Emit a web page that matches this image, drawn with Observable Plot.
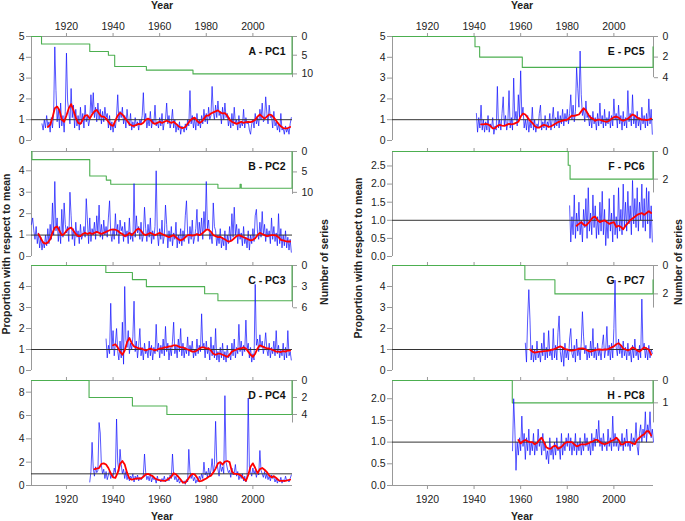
<!DOCTYPE html>
<html><head><meta charset="utf-8">
<script src="https://cdn.jsdelivr.net/npm/d3@7"></script>
<script src="https://cdn.jsdelivr.net/npm/@observablehq/plot@0.6"></script>
<style>
body{margin:0;background:#fff;}
#chart{position:relative;width:685px;height:521px;font-family:"Liberation Sans",Arial,sans-serif;color:#222;overflow:hidden;background:#fff;}
.t{position:absolute;font-weight:bold;font-size:10.5px;white-space:nowrap;line-height:1;color:#222;}
.rot{transform:translate(-50%,-50%) rotate(-90deg);}
.hz{transform:translate(-50%,-50%);}
#chart svg{position:absolute;}
</style></head><body><div id="chart"></div>
<script>
// ---------- data ----------
const panelLabels = ["A - PC1","B - PC2","C - PC3","D - PC4","E - PC5","F - PC6","G - PC7","H - PC8"];
const yearTicks = [1920,1940,1960,1980,2000];
const blueStartYears = [1909.5,1905,1937,1930,1941,1981,1962,1956.5];
const redStartYears = [1912,1908,1940,1932,1943,1984,1964,1959];

const blueA = [0.8,
0.5,1.0,0.6,1.2,0.7,0.9,0.4,1.1,0.6,1.3,
4.5,2.4,0.9,1.5,0.6,1.8,0.7,1.2,0.4,1.4,
4.2,1.9,1.4,0.8,2.5,1.1,1.7,0.6,1.5,0.7,
1.2,0.5,1.6,0.8,1.3,0.6,1.7,0.9,1.2,0.7,
1.0,2.2,1.3,2.3,1.1,1.6,0.9,1.8,1.0,1.5,
0.8,1.4,0.9,1.6,1.1,1.3,0.6,1.2,0.5,0.9,
0.4,0.8,0.6,1.2,2.2,0.9,1.4,1.1,1.6,0.8,
1.2,0.6,1.5,0.9,0.7,1.3,0.5,0.9,0.6,1.1,
0.7,0.9,0.5,1.0,0.8,1.2,2.3,0.9,1.3,0.6,
1.0,0.7,1.4,0.6,1.0,0.8,1.7,0.7,0.9,0.6,
1.1,0.7,1.3,0.5,0.9,1.0,1.8,0.8,1.2,0.6,
0.9,1.5,0.6,1.0,0.4,0.8,0.5,0.9,0.3,0.7,
0.6,0.4,0.8,0.5,1.0,0.7,2.4,0.8,1.2,0.6,
1.1,0.5,1.3,0.7,1.0,0.6,1.2,0.8,1.5,0.9,
1.3,0.8,1.6,1.0,1.2,2.6,1.4,1.0,1.7,1.1,
1.9,1.2,1.4,0.8,1.6,1.0,1.8,1.1,1.3,0.7,
1.1,0.6,1.3,0.7,1.6,0.8,1.0,0.5,1.2,0.6,
0.9,0.7,1.5,0.6,1.1,0.8,0.9,0.5,0.3,0.8,
1.0,0.6,1.3,0.8,1.1,0.7,1.5,1.0,1.8,0.9,
1.0,2.1,1.3,0.8,1.7,1.1,1.2,0.6,1.4,0.7,
0.9,0.5,0.8,0.4,1.3,0.5,0.6,0.3,0.7,0.4,
0.6,0.3,0.8,1.1];
const redA = [0.65,0.75,1.1,1.55,1.63,1.45,1.0,0.9,1.2,1.55,
1.75,1.45,1.1,0.85,0.8,1.0,1.2,1.22,1.05,1.25,
1.4,1.47,1.3,1.15,1.15,1.05,0.9,0.75,0.7,0.95,
1.2,1.33,1.25,1.1,0.95,0.8,0.72,0.7,0.75,0.8,
0.78,0.85,1.0,1.05,1.0,0.85,0.8,0.85,0.9,0.85,
0.9,0.95,0.9,0.85,0.9,0.8,0.7,0.62,0.6,0.65,
0.8,0.95,1.05,1.1,0.95,0.85,0.9,1.05,1.2,1.2,
1.3,1.35,1.4,1.45,1.35,1.3,1.32,1.2,1.0,0.9,
0.85,0.8,0.85,0.9,0.85,0.88,0.9,0.88,0.92,1.0,
1.15,1.25,1.15,1.05,1.15,1.25,1.22,1.1,0.95,0.8,
0.68,0.6,0.58,0.6,0.65];

const blueB = [
1.5,1.8,1.2,0.8,1.4,0.6,1.1,0.4,0.9,0.3,
0.7,0.4,1.0,0.5,1.3,0.6,1.5,0.8,2.5,1.0,
3.5,1.2,1.8,0.7,1.4,0.6,2.2,0.9,2.5,1.5,
1.1,1.4,0.7,3.0,1.9,0.8,1.3,0.5,1.6,0.9,
1.2,0.6,1.5,0.8,1.0,1.4,0.9,2.7,1.7,0.6,
1.8,0.7,1.3,1.0,1.6,0.8,1.9,1.1,2.4,0.9,
1.5,0.8,1.7,1.0,1.4,0.9,1.8,2.6,1.1,0.7,
1.3,0.8,2.0,1.0,1.5,0.6,1.7,1.2,1.4,0.7,
1.6,0.9,1.2,0.6,1.8,0.8,1.1,0.7,3.4,0.9,
1.9,1.1,1.4,0.8,1.6,0.7,1.0,2.3,1.3,0.7,
1.5,0.9,1.8,0.6,1.2,0.8,1.4,4.0,1.1,0.5,
1.3,0.8,1.7,0.6,1.0,2.4,1.5,0.4,1.2,0.7,
1.4,0.5,1.1,0.8,1.6,0.4,1.0,0.6,1.3,0.5,
1.2,0.7,1.9,2.6,1.1,0.6,1.4,0.8,1.7,0.6,
0.9,1.3,2.2,0.7,1.6,1.0,1.8,0.8,2.1,1.2,
3.5,1.3,1.7,0.8,1.1,0.6,2.5,1.4,1.2,0.5,
1.0,0.6,1.3,0.4,0.9,0.5,1.2,0.3,1.0,0.6,
1.4,0.7,2.0,0.9,2.3,1.0,1.5,0.6,1.3,0.8,
1.1,0.5,1.4,0.6,0.9,0.4,1.2,0.3,1.0,0.6,
1.3,0.7,1.9,2.2,1.1,0.8,1.6,0.9,2.1,1.0,
1.5,0.7,1.3,0.9,1.2,0.6,1.8,0.8,1.4,0.7,
1.1,0.5,2.0,0.6,1.3,0.4,1.0,0.5,1.2,0.4,
0.9,0.3,0.8,0.2];
const redB = [1.05,0.85,0.65,0.6,0.65,0.8,1.1,1.35,1.4,1.2,
1.0,1.05,1.2,1.3,1.35,1.2,1.05,0.95,0.95,1.05,
1.1,1.05,1.1,1.05,1.1,1.15,1.1,1.05,1.1,1.15,
1.2,1.25,1.25,1.25,1.2,1.1,1.05,0.95,1.0,1.1,
1.0,1.1,1.25,1.3,1.2,1.05,1.0,1.05,1.1,1.05,
1.0,1.05,1.1,1.05,1.0,0.95,0.9,0.95,1.0,0.9,
0.8,0.75,0.8,0.9,1.0,1.0,0.98,1.0,1.05,1.0,
1.05,1.15,1.25,1.25,1.15,1.0,0.95,0.9,0.92,0.85,
0.8,0.72,0.7,0.75,0.85,0.95,1.0,0.95,0.9,0.85,
0.8,0.75,0.78,0.85,1.0,1.1,1.05,1.0,0.95,0.97,
1.0,1.0,0.98,0.9,0.78,0.75,0.72,0.7,0.7];

const blueC = [1.5,0.6,1.2,0.8,3.2,1.0,
1.9,0.7,1.3,2.0,0.9,0.5,1.4,0.6,2.3,0.3,
4.0,1.5,1.1,1.9,0.8,1.3,1.0,1.6,3.3,0.9,
1.4,0.6,1.2,2.0,0.7,1.1,0.5,1.3,0.8,1.0,
0.6,1.4,0.7,1.2,0.5,1.1,0.8,2.2,0.9,1.3,
0.6,1.2,0.8,1.5,0.7,2.1,0.9,1.3,0.5,1.1,
0.7,1.4,2.3,0.8,1.2,0.6,1.5,0.9,2.0,0.7,
1.3,0.6,1.1,0.8,1.6,0.7,1.2,0.9,1.4,0.6,
1.0,0.7,1.5,0.8,1.2,0.9,2.7,1.1,1.3,0.6,
1.4,0.8,1.1,0.5,1.6,0.7,1.2,0.6,2.0,0.5,
0.9,0.4,1.1,0.6,1.3,0.5,0.9,0.4,1.2,0.6,
0.8,0.5,1.3,0.7,1.5,0.6,1.1,0.8,2.2,0.9,
1.4,0.7,1.2,0.9,2.4,1.0,1.3,0.6,1.1,0.4,
0.8,0.5,4.1,1.2,1.5,0.9,1.7,1.1,1.4,0.8,
1.2,1.8,1.0,0.7,1.3,0.6,1.1,0.8,1.4,0.7,
1.9,0.8,1.2,0.6,1.0,0.7,1.3,0.5,1.1,0.6,
1.9,0.7,0.9,0.5];
const redC = [1.2,1.25,1.1,0.9,0.75,0.95,1.35,1.55,1.3,1.15,
1.1,1.05,1.05,1.0,0.95,1.0,1.05,1.0,0.95,1.0,
1.05,1.05,1.1,1.1,1.15,1.15,1.2,1.2,1.15,1.1,
1.1,1.05,1.0,0.95,0.9,0.9,0.95,1.05,1.1,1.1,
1.05,1.05,0.95,0.8,0.75,0.8,0.8,0.75,0.7,0.65,
0.75,0.9,0.95,1.0,1.05,1.05,1.1,1.05,0.9,0.75,
0.65,0.8,1.05,1.2,1.15,1.1,1.05,1.05,1.0,0.95,
0.9,0.9,0.88,0.92,0.9,0.95,0.95];

const blueD = [
0.3,1.2,3.7,1.5,0.8,1.6,1.1,1.3,5.4,4.5,
1.7,1.0,1.4,0.6,1.2,0.5,0.9,1.3,0.6,1.0,
0.7,1.5,1.1,5.7,2.0,1.2,3.1,1.8,1.0,1.4,
0.6,1.2,0.5,0.9,0.4,0.8,0.6,1.0,0.3,0.8,
0.5,0.9,0.4,0.7,0.5,0.6,0.9,2.7,1.1,0.5,
0.8,0.4,1.0,0.3,0.7,0.5,0.6,0.2,0.8,0.4,
0.5,0.3,0.6,0.4,0.8,0.3,0.5,0.7,0.4,0.9,
0.6,2.7,1.0,0.5,0.8,0.3,0.6,0.2,0.4,0.3,
0.2,0.4,0.1,0.5,0.3,3.1,1.2,0.6,1.0,0.4,
0.7,0.2,0.5,0.3,0.8,0.5,1.0,0.6,2.0,0.9,
1.2,0.7,1.5,0.8,1.3,2.3,1.1,1.8,5.5,2.0,
1.4,0.8,1.9,1.2,1.6,1.0,7.7,2.0,1.5,1.1,
1.3,0.7,1.5,0.9,1.1,1.8,0.8,1.2,0.5,0.9,
0.6,1.0,0.4,0.8,0.3,0.7,7.5,1.6,1.2,0.8,
1.5,1.0,1.3,0.7,1.2,0.9,3.0,1.3,1.0,0.7,
1.2,0.6,1.0,0.5,0.8,0.4,0.9,0.6,0.7,0.3,
0.6,0.2,0.5,0.3,0.7,0.2,0.5,0.3,0.8,0.4,
0.5,0.3,0.6,0.9];
const redD = [1.4,1.45,1.5,1.85,1.9,1.8,1.5,1.05,0.7,0.65,
1.1,1.85,2.1,1.8,1.1,0.6,0.5,0.55,0.6,0.6,
0.6,0.75,0.95,1.0,0.9,0.8,0.6,0.5,0.45,0.42,
0.4,0.45,0.6,0.75,1.05,0.95,0.75,0.5,0.25,0.25,
0.5,0.8,1.0,0.95,0.7,0.35,0.4,0.5,0.6,0.75,
0.85,1.1,1.45,1.9,2.0,1.8,2.05,2.1,2.0,1.2,
1.0,1.0,0.95,0.85,0.6,0.4,0.9,1.6,1.9,1.5,
1.05,1.4,1.5,1.35,1.15,0.85,0.7,0.8,0.65,0.45,
0.4,0.4,0.4,0.45,0.5];

const blueE = [1.3,0.4,1.1,0.6,1.7,0.5,1.0,0.4,
0.9,0.5,1.2,0.4,0.8,0.6,1.1,0.3,0.7,0.5,
2.6,0.6,1.0,0.5,1.3,2.1,0.7,1.2,0.5,0.9,
2.4,0.6,1.1,0.5,3.0,1.0,1.4,0.7,2.2,1.1,
3.35,1.2,1.6,0.6,1.0,0.5,1.2,0.4,0.9,0.6,
1.6,0.5,1.0,0.4,0.8,0.6,1.3,1.7,0.5,0.9,
0.6,1.2,0.5,0.9,0.7,1.3,0.5,1.0,1.6,0.6,
1.1,0.7,1.4,0.6,1.2,0.8,1.5,0.7,1.3,0.9,
1.5,0.8,1.3,2.2,1.0,1.7,0.9,1.4,3.5,2.5,
1.6,4.3,2.2,1.2,1.5,0.9,1.9,1.1,1.3,0.7,
1.2,0.6,1.4,0.8,1.1,0.5,1.3,0.7,1.8,0.8,
1.2,0.6,1.5,0.7,1.1,0.8,1.4,0.6,1.2,0.7,
2.0,1.0,1.3,0.6,1.7,0.8,1.2,0.5,1.4,0.7,
1.1,0.6,2.4,0.9,1.3,0.7,2.2,0.8,1.2,0.6,
1.4,0.7,1.1,0.5,1.6,0.8,1.2,0.6,1.3,0.7,
2.0,0.8,1.5,0.3];
const redE = [0.78,0.78,0.8,0.78,0.7,0.58,0.6,0.7,0.75,0.72,
0.7,0.75,0.8,0.78,0.8,0.85,0.9,1.15,1.3,1.25,
1.1,0.95,0.85,0.7,0.62,0.62,0.7,0.75,0.72,0.65,
0.68,0.75,0.82,0.88,0.92,0.95,0.98,1.0,1.1,1.2,
1.18,1.22,1.25,1.4,1.55,1.45,1.25,1.1,1.05,0.95,
1.0,1.0,0.95,0.92,0.9,0.95,1.05,1.12,1.15,1.1,
1.0,0.95,1.0,1.05,1.15,1.25,1.2,1.1,1.05,1.0,
1.0,0.98,1.0,1.05];

const blueF = [1.4,0.4,1.1,0.6,1.7,0.5,1.2,0.7,
1.5,0.6,1.0,0.4,1.3,0.8,1.6,0.5,1.9,0.7,
1.2,0.6,1.7,0.8,1.4,0.5,1.1,0.6,1.5,0.7,
1.8,0.6,1.3,0.3,1.0,0.5,1.6,0.7,1.2,0.4,
1.7,0.6,1.1,0.5,1.9,0.7,1.3,0.6,2.0,0.8,
1.5,0.7,1.8,0.9,1.4,0.6,2.1,0.9,1.6,0.8,
1.9,0.7,1.5,1.0,2.0,0.8,1.6,0.7,1.9,0.9,
1.8,0.5,1.4,0.4];
const redF = [0.85,0.9,0.95,0.88,0.85,0.92,1.0,1.08,1.1,1.0,
0.95,0.98,1.0,0.95,0.9,0.93,0.95,0.82,0.85,0.82,
0.75,0.85,0.92,1.0,1.05,1.1,1.15,1.18,1.2,1.15,
1.2,1.25,1.2];

const blueG = [1.3,0.4,2.5,3.85,2.4,0.5,
1.2,0.4,1.0,0.5,1.4,0.6,0.9,0.4,1.3,0.7,
1.8,0.5,1.1,0.6,1.9,0.7,1.0,0.5,2.0,0.6,
1.2,0.5,1.8,2.6,0.9,0.4,1.1,0.2,1.3,0.6,
1.0,0.5,1.5,2.0,0.8,0.6,1.2,0.4,1.5,0.7,
1.1,0.5,1.3,2.8,1.6,0.8,1.2,0.5,1.0,0.6,
1.4,0.7,2.0,0.6,1.1,0.5,1.3,0.7,1.0,0.5,
1.2,1.7,0.6,1.0,2.1,0.7,1.2,0.5,1.3,0.6,
2.0,4.3,1.1,0.7,1.5,0.8,1.2,0.6,1.4,0.7,
1.1,0.5,1.3,0.7,1.0,0.4,1.2,0.6,1.5,0.7,
1.0,0.5,1.2,0.6,3.4,1.0,1.3,0.6,1.1,0.5,
1.2,0.6,1.0,0.8];
const redG = [1.0,0.9,0.85,0.88,0.9,0.9,0.92,0.93,0.95,0.98,
1.0,1.05,1.1,1.15,1.1,1.02,1.0,0.95,0.95,0.97,
1.0,1.03,1.05,1.05,1.0,0.93,0.9,0.93,0.97,1.0,
1.0,0.98,1.0,1.0,1.05,1.1,1.15,1.25,1.3,1.2,
1.05,1.0,0.95,1.0,1.1,1.05,0.95,0.9,1.0,1.1,
1.05,1.0,0.75];

const blueH = [0.8,2.0,1.3,0.35,1.0,0.7,1.1,0.8,
1.6,0.9,1.2,0.6,1.1,0.8,1.3,0.7,1.0,0.8,
1.2,0.7,1.0,0.8,1.3,0.9,1.1,0.7,1.2,0.8,
1.0,0.6,0.8,0.5,1.1,0.7,0.9,0.6,1.0,0.7,
1.1,0.8,0.9,0.6,1.2,0.7,1.0,0.8,1.1,0.9,
1.2,0.8,1.1,0.7,1.0,0.8,1.2,0.7,1.0,0.8,
1.1,0.7,1.0,0.8,1.2,0.9,1.1,0.8,1.0,0.7,
1.2,0.8,1.1,0.9,1.3,1.0,1.5,0.9,1.1,0.8,
1.2,0.9,1.0,0.8,1.3,0.9,1.1,0.8,1.6,0.9,
1.2,0.9,1.1,0.8,1.0,0.9,1.2,0.8,1.1,0.9,
1.3,0.9,1.0,0.8,1.2,0.9,1.1,1.0,1.45,0.9,
0.7,1.2,1.4,1.0,1.3,1.1,1.7,1.0,1.4,1.2,
1.7,1.1,1.3,1.0];
const redH = [1.05,0.97,1.02,1.05,1.02,1.0,1.0,0.95,0.98,1.05,
1.1,1.0,0.88,0.85,0.85,0.9,0.92,0.85,0.87,0.92,
0.98,1.0,1.0,1.0,0.95,0.9,0.92,0.95,0.95,0.95,
0.97,1.0,1.02,1.05,1.05,1.0,0.97,0.95,0.97,1.0,
1.03,1.05,1.1,1.05,0.95,0.95,1.0,1.0,1.0,0.97,
0.95,1.05,1.1,1.15,1.18,1.25,1.25,1.15];

// number of series (step lines)
const stepYearsA = [1905,1909.3,1930,1938,1940.7,1954.3,1974.3,2016.8];
const stepCountsA = [0,2,4,5,8,9,10,0];
const stepYearsB = [1905,1905.2,1930,1937.1,1939,1985,1994.5,1995,2016.8];
const stepCountsB = [0,2,6,7,8,9,8,9,0];
const stepYearsC = [1905,1936.9,1948.3,1954.3,1979.3,1985,2016.8];
const stepCountsC = [0,1,2,3,4,5,0];
const stepYearsD = [1905,1929.7,1948.3,1963.1,2016.8];
const stepCountsD = [0,2,3,4,0];
const stepYearsE = [1905,1940.4,1942.4,1960.7,2016.8];
const stepCountsE = [0,1,2,3,1];
const stepYearsF = [1905,1980.4,1981.2,2016.8];
const stepCountsF = [0,1,2,0];
const stepYearsG = [1905,1961.8,1974.7,2016.8];
const stepCountsG = [0,1,2,1];
const stepYearsH = [1905,1956.4,2016.8];
const stepCountsH = [0,1,0];

// left (proportion) axis
const yMax = [5,4.9,5,9,5,2.9,5,2.42];
const yTicksList = [[0,1,2,3,4,5],[0,1,2,3,4],[0,1,2,3,4],[0,2,4,6,8],[0,1,2,3,4,5],[0,0.5,1,1.5,2,2.5],[0,1,2,3,4],[0,0.5,1,1.5,2]];
const yFormats = ["d","d","d","d","d",".1f","d",".1f"];
// right (number of series, inverted) axis
const nBottom = [27.8,25.7,14.9,12.35,10.1,7.6,7.4,4.7];
const nTicksList = [[0,5,10],[0,5,10],[0,3,6],[0,2,4],[0,2,4],[0,2],[0,2],[0,1]];
const nAxisEnd = [11,10.5,6,5,4,3,3,1.9];

const blues = [blueA,blueB,blueC,blueD,blueE,blueF,blueG,blueH];
const reds = [redA,redB,redC,redD,redE,redF,redG,redH];
const stepYears = [stepYearsA,stepYearsB,stepYearsC,stepYearsD,stepYearsE,stepYearsF,stepYearsG,stepYearsH];
const stepCounts = [stepCountsA,stepCountsB,stepCountsC,stepCountsD,stepCountsE,stepCountsF,stepCountsG,stepCountsH];

// ---------- layout ----------
const chart = document.getElementById("chart");
const rowTop = [36,151,265,380], rowBot = [140,256,370,485];
const grey = "#999", ink = "#222";
const font = "'Liberation Sans', Arial, sans-serif";

for (let p = 0; p < 8; p++) {
  const col = p < 4 ? 0 : 1, row = p % 4;
  const mt = row === 0 ? 36 : 8, mb = row === 3 ? 36 : 8;
  const h = rowBot[row] - rowTop[row];
  const width = col === 0 ? 340 : 345;
  const ml = col === 0 ? 31 : 52, mr = col === 0 ? 48 : 32;
  const top = yMax[p];
  const k = top / nBottom[p];
  const toY = n => top - n * k;
  const blue = blues[p].map((v, i) => ({year: blueStartYears[p] + i * 0.5, value: v}));
  const red = reds[p].map((v, i) => ({year: redStartYears[p] + i, value: v}));
  const green = stepYears[p].map((yr, i) => ({year: yr, value: toY(stepCounts[p][i])}));
  const svg = Plot.plot({
    width, height: mt + h + mb,
    marginTop: mt, marginBottom: mb, marginLeft: ml, marginRight: mr,
    x: {domain: [1905, 2017], axis: null},
    y: {domain: [0, top], axis: null},
    style: {fontFamily: font, fontSize: "10.5px", background: "transparent", overflow: "visible", color: ink},
    marks: [
      Plot.ruleY([top], {stroke: grey}),
      Plot.ruleX([1905], {y1: 0, y2: top, stroke: grey}),
      Plot.ruleX([2017], {y1: top, y2: toY(nAxisEnd[p]), stroke: grey}),
      row === 3 ? Plot.ruleY([0], {stroke: grey}) : null,
      Plot.axisY({anchor: "left", ticks: yTicksList[p], tickFormat: yFormats[p], tickSize: 5, tickPadding: 2, stroke: grey, fill: ink, label: null}),
      Plot.axisY({anchor: "right", ticks: nTicksList[p].map(toY), tickFormat: v => String(Math.round((top - v) / k)), tickSize: 4, tickPadding: 5, stroke: grey, fill: ink, label: null}),
      Plot.axisX({anchor: "top", ticks: yearTicks, tickSize: 4, tickPadding: 3, tickFormat: row === 0 ? "d" : () => "", stroke: grey, fill: ink, label: null}),
      row === 3 ? Plot.axisX({anchor: "bottom", ticks: yearTicks, tickSize: 4, tickPadding: 6, tickFormat: "d", stroke: grey, fill: ink, label: null}) : null,
      Plot.line(green, {x: "year", y: "value", curve: "step-after", stroke: "#4caf50", strokeWidth: 1.1}),
      Plot.line(blue, {x: "year", y: "value", stroke: "#1010ff", strokeWidth: 0.7}),
      Plot.ruleY([1], {stroke: "#333"}),
      Plot.line(red, {x: "year", y: "value", stroke: "#ff0000", strokeWidth: 1.8}),
      Plot.text([panelLabels[p]], {text: d => d, frameAnchor: "top-right", dx: col === 0 ? -7 : -9, dy: 11, textAnchor: "end", fontWeight: "bold", fontSize: 10.5, fill: "#111"})
    ]
  });
  svg.style.left = (col === 0 ? 0 : 340) + "px";
  svg.style.top = (rowTop[row] - mt) + "px";
  chart.append(svg);
}

function addText(txt, x, y, rotate) {
  const d = document.createElement("div");
  d.className = "t " + (rotate ? "rot" : "hz");
  d.textContent = txt;
  d.style.left = x + "px";
  d.style.top = y + "px";
  chart.append(d);
}
addText("Year", 162, 5, false);
addText("Year", 522, 5, false);
addText("Year", 162, 516, false);
addText("Year", 522, 516, false);
addText("Proportion with respect to mean", 6, 254, true);
addText("Proportion with respect to mean", 358, 258, true);
addText("Number of series", 324, 262, true);
addText("Number of series", 678, 262, true);
</script>
</body></html>
